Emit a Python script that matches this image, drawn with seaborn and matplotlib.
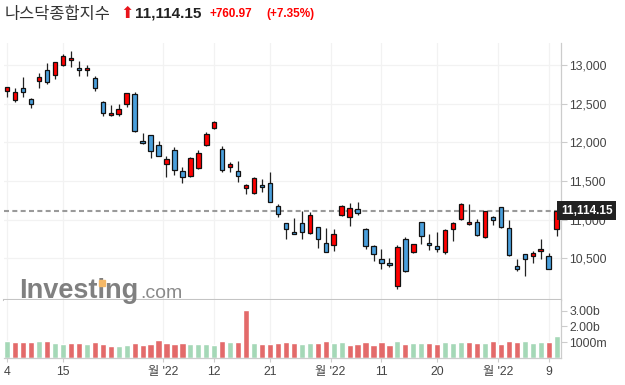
import numpy as np
import pandas as pd
import matplotlib
matplotlib.use("Agg")
import matplotlib.pyplot as plt
from matplotlib.patches import Rectangle
import seaborn as sns

# daily candles (Aug 4 .. Nov 10)
opens = [12668, 12543, 12703, 12556, 12789, 12931, 12867, 12996, 13061, 12961,
         12931, 12832, 12518, 12349, 12370, 12499, 12625, 12013, 12091, 11961,
         11716, 11897, 11633, 11560, 11672, 11961, 12181, 11910, 11677, 11625,
         11405, 11341, 11444, 11474, 11173, 10951, 10834, 10951, 10825, 10899,
         10694, 10668, 11056, 11030, 11134, 10875, 10655, 10487, 10435, 10140,
         10746, 10578, 10964, 10694, 10655, 10578, 10873, 11003, 10938, 10964,
         10771, 11029, 11160, 10888, 10397, 10552, 10526, 10591, 10526, 10875]
highs = [12719, 12706, 12841, 12577, 12893, 13022, 13040, 13138, 13181, 13048,
         12996, 12854, 12534, 12478, 12492, 12642, 12651, 12117, 12091, 12021,
         11823, 11936, 11681, 11814, 11897, 12130, 12270, 11949, 11750, 11754,
         11461, 11545, 11522, 11612, 11198, 10960, 11015, 11106, 11097, 10905,
         10888, 10875, 11190, 11211, 11224, 10888, 10668, 10616, 10500, 10668,
         10772, 10690, 10964, 10810, 10836, 10875, 10964, 11211, 11198, 11003,
         11108, 11042, 11165, 10990, 10487, 10552, 10591, 10746, 10565, 11114.15]
lows = [12590, 12525, 12590, 12440, 12699, 12758, 12822, 12987, 12970, 12862,
        12862, 12668, 12344, 12344, 12340, 12461, 12129, 11982, 11793, 11819,
        11548, 11577, 11470, 11545, 11660, 11950, 12168, 11612, 11612, 11491,
        11328, 11330, 11354, 11224, 11030, 10744, 10808, 10744, 10815, 10628,
        10578, 10591, 11045, 10913, 11056, 10616, 10461, 10358, 10384, 10101,
        10319, 10565, 10681, 10603, 10578, 10552, 10719, 10995, 10930, 10783,
        10765, 10926, 10890, 10526, 10332, 10267, 10435, 10487, 10358, 10783]
closes = [12712, 12647, 12647, 12492, 12841, 12776, 13035, 13113, 13091, 12931,
          12961, 12699, 12375, 12375, 12427, 12634, 12142, 11985, 11884, 11819,
          11780, 11638, 11548, 11793, 11858, 12104, 12259, 11638, 11716, 11560,
          11444, 11535, 11418, 11224, 11069, 10873, 10808, 10834, 11058, 10744,
          10578, 10810, 11173, 11147, 11082, 10655, 10552, 10435, 10409, 10650,
          10332, 10681, 10783, 10668, 10616, 10862, 10951, 11198, 10964, 10796,
          11108, 10990, 10900, 10538, 10358, 10487, 10565, 10616, 10358, 11114.15]

# volume in billions, and whether the bar is green (up vs. previous close)
volume_b = [1.07, 1.00, 1.00, 1.00, 1.07, 1.07, 0.94, 0.87, 0.94, 0.94,
            0.87, 1.00, 0.87, 0.75, 0.73, 0.81, 0.94, 0.81, 0.87, 1.13,
            0.94, 0.87, 0.94, 0.87, 0.87, 0.87, 0.81, 1.07, 1.00, 1.00,
            3.04, 0.94, 0.87, 0.87, 0.94, 1.00, 0.94, 0.87, 0.94, 0.94,
            1.05, 0.94, 1.00, 0.81, 0.87, 1.00, 0.81, 1.00, 0.81, 1.07,
            0.87, 0.94, 0.94, 0.94, 0.87, 1.00, 0.94, 1.00, 1.00, 0.94,
            0.94, 1.07, 0.87, 1.07, 1.00, 1.07, 0.94, 1.00, 1.00, 1.38]
vol_up = [1, 0, 0, 0, 1, 0, 1, 1, 0, 0,
          1, 0, 0, 0, 1, 1, 0, 0, 0, 0,
          0, 0, 0, 1, 1, 1, 1, 0, 1, 0,
          0, 1, 0, 0, 0, 0, 0, 1, 1, 0,
          0, 1, 1, 0, 0, 0, 0, 0, 0, 1,
          0, 1, 1, 0, 0, 1, 1, 1, 0, 0,
          1, 0, 0, 0, 0, 1, 1, 1, 0, 1]

tick_pos = [0, 7, 19.6, 26, 33, 40.6, 47, 54, 61.6, 68]
tick_labels = ['4', '15', "월 '22", '12', '21', "월 '22", '11', '20', "월 '22", '9']
price_ticks = [10500, 11000, 11500, 12000, 12500, 13000]
vol_ticks = [1, 2, 3]
vol_tick_labels = ['1000m', '2.00b', '3.00b']

last_price = 11114.15
change = '+760.97'
change_pct = '(+7.35%)'

df = pd.DataFrame({'open': opens, 'high': highs, 'low': lows, 'close': closes,
                   'vol': volume_b,
                   'dir': ['up' if u else 'down' for u in vol_up]})
df['idx'] = np.arange(len(df))

sns.set_theme(style='white')
plt.rcParams['font.family'] = ['Liberation Sans', 'Noto Sans CJK KR', 'DejaVu Sans']

fig = plt.figure(figsize=(6.25, 3.85), dpi=100)
ax = fig.add_axes([0.0064, 0.2208, 0.8912, 0.6675])
axv = fig.add_axes([0.0064, 0.0709, 0.8912, 0.1499])

# ---- candles ----
up = df['close'] >= df['open']
body_lo = np.minimum(df['open'], df['close'])
body_h = np.maximum(np.abs(df['close'] - df['open']), 18)
ax.vlines(df['idx'], df['low'], df['high'], color='#222222', lw=0.9, zorder=2)
ax.bar(df['idx'], body_h, bottom=body_lo, width=0.56,
       color=np.where(up, '#ff0000', '#4a9fdc'), edgecolor='#111111',
       linewidth=0.9, zorder=3)

ax.axhline(last_price, color='#9a9a9a', lw=1.5, ls=(0, (2.4, 1.6)), zorder=1)

ax.set_xlim(-0.41, 69.55)
ax.set_ylim(9961, 13284)
ax.set_xticks(tick_pos)
ax.set_xticklabels([])
ax.set_yticks(price_ticks)
ax.set_yticklabels([f'{v:,}' for v in price_ticks])
ax.yaxis.tick_right()
ax.tick_params(axis='y', length=4, width=0.8, color='#cccccc', labelsize=8.8,
               labelcolor='#444444', pad=2, right=True, left=False)
ax.tick_params(axis='x', length=0)
ax.grid(True, color='#f2f2f2', lw=0.9)
for s in ['left', 'top']:
    ax.spines[s].set_visible(False)
ax.spines['right'].set_color('#cccccc')
ax.spines['right'].set_linewidth(0.9)
ax.spines['bottom'].set_color('#c4c4c4')
ax.spines['bottom'].set_linewidth(1.5)

ax.text(1.0, last_price, f'{last_price:,.2f}', transform=ax.get_yaxis_transform(),
        ha='left', va='center', color='white', fontsize=8.5, fontweight='bold',
        bbox=dict(boxstyle='square,pad=0.3', fc='#222222', ec='none'),
        zorder=10, clip_on=False)

# ---- volume ----
sns.barplot(data=df, x='idx', y='vol', hue='dir', ax=axv, dodge=False,
            palette={'up': '#a5d8b7', 'down': '#e36a6a'}, saturation=1,
            width=0.78, legend=False)
axv.set_xlim(-0.41, 69.55)
axv.set_ylim(0, 3.68)
axv.set_xticks(tick_pos)
axv.set_xticklabels(tick_labels)
axv.set_yticks(vol_ticks)
axv.set_yticklabels(vol_tick_labels)
axv.set_xlabel('')
axv.set_ylabel('')
axv.yaxis.tick_right()
axv.tick_params(axis='y', length=4, width=0.8, color='#cccccc', labelsize=8.8,
                labelcolor='#444444', pad=2, right=True, left=False)
axv.tick_params(axis='x', length=3, width=0.8, color='#cccccc', labelsize=8.8,
                labelcolor='#444444', pad=3, bottom=True)
axv.grid(True, axis='x', color='#f2f2f2', lw=0.9)
axv.set_axisbelow(True)
for s in ['left', 'top']:
    axv.spines[s].set_visible(False)
for s in ['right', 'bottom']:
    axv.spines[s].set_color('#cccccc')
    axv.spines[s].set_linewidth(0.9)

# ---- header ----
yh = 1 - 14 / 385
fig.text(5 / 625, yh, '나스닥종합지수', family=['Noto Sans CJK KR'], fontsize=11.8,
         color='#333333', va='center')
fig.text(120 / 625, yh, '⬆', family=['DejaVu Sans'], fontsize=11.5, color='#e8141b',
         va='center')
fig.text(135 / 625, yh, f'{last_price:,.2f}', fontsize=11, fontweight='bold',
         color='#222222', va='center')
fig.text(210 / 625, yh, change, fontsize=8.5, fontweight='bold', color='#ff0000',
         va='center')
fig.text(266 / 625, yh, change_pct, fontsize=8.5, fontweight='bold', color='#ff0000',
         va='center')

# ---- watermark ----
fig.text(19 / 625, 1 - 298 / 385, 'Investing', fontsize=19.5, fontweight='bold',
         color='#808080', va='baseline')
fig.text(140 / 625, 1 - 298 / 385, '.com', fontsize=14, color='#8a8a8a',
         va='baseline')
fig.patches.append(Rectangle((99 / 625, 1 - 286 / 385), 6 / 625, 6 / 385,
                             transform=fig.transFigure, color='#f5b866',
                             zorder=5))

fig.savefig('out.png', dpi=100)
